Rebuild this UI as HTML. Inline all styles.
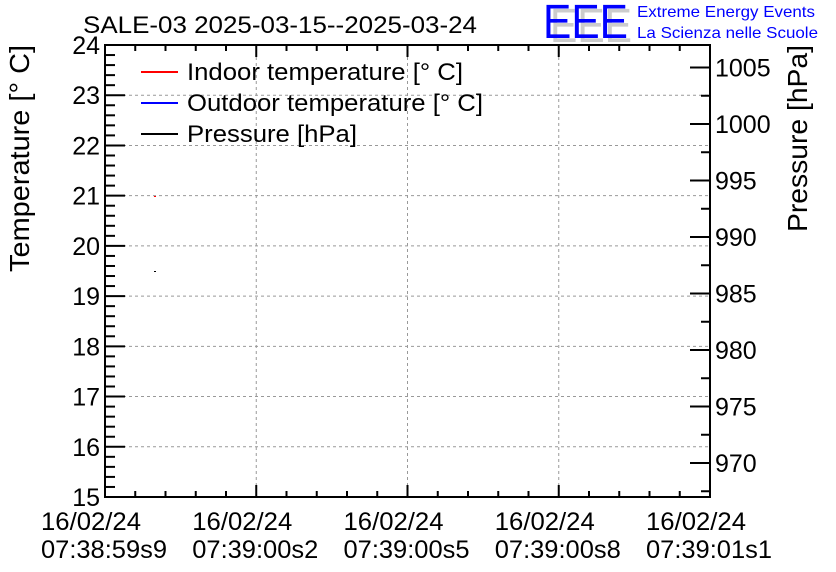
<!DOCTYPE html>
<html><head><meta charset="utf-8"><style>
html,body{margin:0;padding:0;background:#fff;}
svg{display:block;font-family:"Liberation Sans",sans-serif;}
</style></head><body>
<svg id="s" width="836" height="572" xmlns="http://www.w3.org/2000/svg">
<rect width="836" height="572" fill="#fff"/>
<g id="grid" stroke="#999" stroke-dasharray="3,3" stroke-width="1"></g>
<g id="ticks" stroke="#000" stroke-width="2"></g>
<rect x="105" y="45" width="605" height="452" fill="none" stroke="#000" stroke-width="2"/>
<g id="labels" font-size="25" fill="#000"></g>
<text x="83" y="33" font-size="24" textLength="394" lengthAdjust="spacingAndGlyphs">SALE-03 2025-03-15--2025-03-24</text>
<g font-size="48" font-weight="normal">
<text x="550" y="42" fill="#ccc" textLength="82" lengthAdjust="spacingAndGlyphs">EEE</text>
<text x="543" y="38" fill="#0000ff" textLength="85" lengthAdjust="spacingAndGlyphs">EEE</text>
</g>
<text x="637" y="17" font-size="16" fill="#0000ff" textLength="178" lengthAdjust="spacingAndGlyphs">Extreme Energy Events</text>
<text x="637" y="38" font-size="16" fill="#0000ff" textLength="181" lengthAdjust="spacingAndGlyphs">La Scienza nelle Scuole</text>
<text transform="translate(29,158.5) rotate(-90)" text-anchor="middle" font-size="28" textLength="227" lengthAdjust="spacingAndGlyphs">Temperature [° C]</text>
<text transform="translate(807,138.5) rotate(-90)" text-anchor="middle" font-size="28" textLength="187" lengthAdjust="spacingAndGlyphs">Pressure [hPa]</text>
<line x1="141" y1="72" x2="178" y2="72" stroke="#f00" stroke-width="2"/>
<line x1="141" y1="103" x2="178" y2="103" stroke="#00f" stroke-width="2"/>
<line x1="141" y1="134" x2="178" y2="134" stroke="#000" stroke-width="2"/>
<text x="187" y="80" font-size="24" textLength="276" lengthAdjust="spacingAndGlyphs">Indoor temperature [° C]</text>
<text x="187" y="111" font-size="24" textLength="296" lengthAdjust="spacingAndGlyphs">Outdoor temperature [° C]</text>
<text x="187" y="142" font-size="24" textLength="170" lengthAdjust="spacingAndGlyphs">Pressure [hPa]</text>
<rect x="154" y="196" width="2" height="1" fill="#f00"/>
<rect x="154" y="271" width="2" height="1" fill="#000"/>
</svg>
<script>
var NS="http://www.w3.org/2000/svg";
function el(p,t,a,txt){var e=document.createElementNS(NS,t);for(var k in a)e.setAttribute(k,a[k]);if(txt!==undefined)e.textContent=txt;document.getElementById(p).appendChild(e);}
var L=105,R=710,T=45,B=497;
function yT(v){return B-(v-15)*(B-T)/9;}
for(var i=0;i<=45;i++){var v=15+i*0.2,y=yT(v),maj=(i%5==0);
 el("ticks","line",{x1:L,y1:y,x2:L+(maj?20:10),y2:y});
 if(maj){var n=15+i/5; if(n>15&&n<24) el("grid","line",{x1:L,y1:y,x2:R,y2:y});
  el("labels","text",{x:L-5,y:y+9,"text-anchor":"end"},""+n);}
}
function yP(p){return 463-(p-970)*11.3;}
for(var p=967.5;p<=1007.1;p+=2.5){var y=yP(p);if(y<T||y>B)continue;var maj=(Math.abs(p%5)<0.01);
 el("ticks","line",{x1:R,y1:y,x2:R-(maj?20:9),y2:y});
 if(maj) el("labels","text",{x:R+5,y:y+9},""+p);}
var xs=(R-L)/20;
var labs=["07:38:59s9","07:39:00s2","07:39:00s5","07:39:00s8","07:39:01s1"];
for(var i=0;i<=20;i++){var x=L+i*xs,maj=(i%5==0);
 el("ticks","line",{x1:x,y1:B,x2:x,y2:B-(maj?12:6)});
 el("ticks","line",{x1:x,y1:T,x2:x,y2:T+(maj?12:6)});
 if(maj){var k=i/5; if(k>0&&k<4) el("grid","line",{x1:x,y1:T,x2:x,y2:B});
  el("labels","text",{x:x-14,y:530,"text-anchor":"middle",textLength:100,lengthAdjust:"spacingAndGlyphs"},"16/02/24");
  el("labels","text",{x:x-1,y:558,"text-anchor":"middle",textLength:126,lengthAdjust:"spacingAndGlyphs"},labs[k]);}
}
</script>
</body></html>
